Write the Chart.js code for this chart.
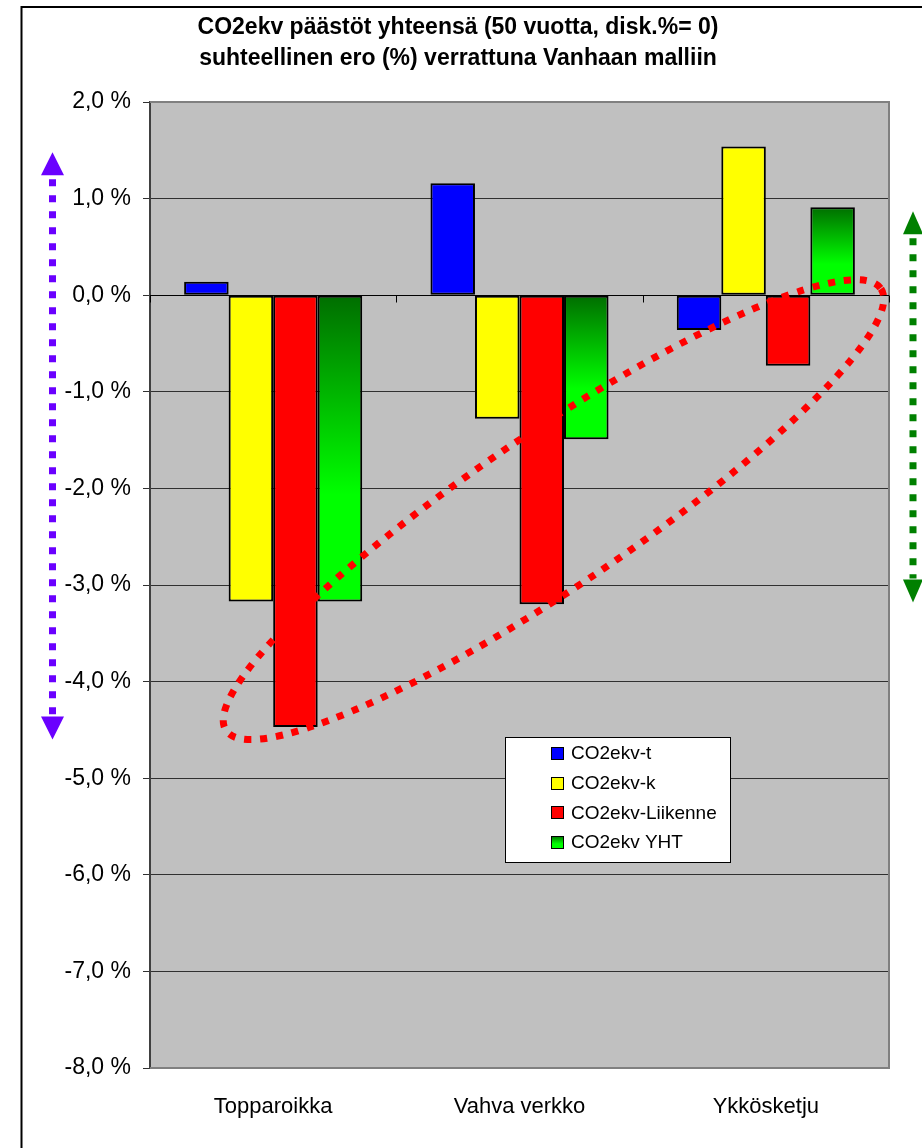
<!DOCTYPE html>
<html>
<head>
<meta charset="utf-8">
<script src="https://cdn.jsdelivr.net/npm/chart.js@4.4.1/dist/chart.umd.min.js"></script>
<style>
  html, body { margin: 0; padding: 0; background: #ffffff; }
  #wrap { width: 922px; height: 1148px; position: relative; }
  canvas { display: block; }
</style>
</head>
<body>
<div id="wrap"><canvas id="chart" width="922" height="1148"></canvas></div>
<script>
// Relative difference (%) of total CO2-eq emissions compared with the old model
const categories = ['Topparoikka', 'Vahva verkko', 'Ykkösketju'];
const seriesNames = ['CO2ekv-t', 'CO2ekv-k', 'CO2ekv-Liikenne', 'CO2ekv YHT'];
const co2t = [0.14, 1.16, -0.36];
const co2k = [-3.17, -1.28, 1.54];
const co2Liikenne = [-4.47, -3.20, -0.73];
const co2Yht = [-3.17, -1.49, 0.91];
const yMin = -8;
const yMax = 2;
const yStep = 1;
const titleLines = [
  'CO2ekv päästöt yhteensä (50 vuotta, disk.%= 0)',
  'suhteellinen ero (%) verrattuna Vanhaan malliin'
];

const FONT = "'Liberation Sans', Arial, sans-serif";

function pct(v) {
  return v.toFixed(1).replace('.', ',') + ' %';
}

function greenGradient(ctx, top, bottom) {
  const g = ctx.createLinearGradient(0, top, 0, bottom);
  g.addColorStop(0, '#006e00');
  g.addColorStop(0.65, '#00ff00');
  g.addColorStop(1, '#00ff00');
  return g;
}

// per-bar fill: dark-to-bright green gradient for the total series
function greenFill(c) {
  const chart = c.chart;
  const ys = chart.scales && chart.scales.y;
  if (!ys || c.type !== 'data' || typeof c.raw !== 'number') return '#00c000';
  const top = ys.getPixelForValue(Math.max(c.raw, 0));
  const bot = ys.getPixelForValue(Math.min(c.raw, 0));
  if (!isFinite(top) || !isFinite(bot)) return '#00c000';
  return greenGradient(chart.ctx, top, bot + 0.01);
}

const plotDecor = {
  id: 'plotDecor',
  beforeDraw(chart) {
    const { ctx, chartArea: a } = chart;
    ctx.save();
    ctx.fillStyle = '#ffffff';
    ctx.fillRect(0, 0, chart.width, chart.height);
    ctx.fillStyle = '#c0c0c0';
    ctx.fillRect(a.left, a.top, a.right - a.left, a.bottom - a.top);
    ctx.restore();
  },
  beforeDatasetsDraw(chart) {
    const { ctx, chartArea: a } = chart;
    const ys = chart.scales.y;
    ctx.save();
    // frame of the plot area (top, right, bottom)
    ctx.strokeStyle = '#808080';
    ctx.lineWidth = 2;
    ctx.beginPath();
    ctx.moveTo(a.left, a.top);
    ctx.lineTo(a.right, a.top);
    ctx.lineTo(a.right, a.bottom);
    ctx.lineTo(a.left, a.bottom);
    ctx.stroke();
    // category axis at zero with tick marks between categories
    const y0 = Math.round(ys.getPixelForValue(0)) + 0.5;
    ctx.strokeStyle = '#000000';
    ctx.lineWidth = 1;
    ctx.beginPath();
    ctx.moveTo(a.left, y0);
    ctx.lineTo(a.right, y0);
    const n = categories.length;
    for (let i = 0; i <= n; i++) {
      const x = Math.round(a.left + (a.right - a.left) * i / n) + 0.5;
      ctx.moveTo(x, y0);
      ctx.lineTo(x, y0 + 7);
    }
    ctx.stroke();
    ctx.restore();
  },
  beforeDatasetDraw(chart, args) {
    if (args.index !== 3) return;
    args.meta.data.forEach((el) => {
      const p = el.getProps(['y', 'base'], true);
      const top = Math.min(p.y, p.base);
      const bot = Math.max(p.y, p.base);
      if (!isFinite(top) || !isFinite(bot)) return;
      try {
        el.options.backgroundColor = greenGradient(chart.ctx, top, bot + 0.01);
      } catch (e) { /* options frozen: keep resolved fill */ }
    });
  },
  afterDatasetsDraw(chart) {
    const { ctx, chartArea: a } = chart;
    const ys = chart.scales.y;

    // dotted ellipse around the emphasised bars
    ctx.save();
    const cx = a.left + (a.right - a.left) * 0.546;
    const cy = ys.getPixelForValue(-2.22);
    ctx.strokeStyle = '#ff0000';
    ctx.lineWidth = 7;
    ctx.setLineDash([7, 9]);
    ctx.lineCap = 'butt';
    ctx.beginPath();
    ctx.ellipse(cx, cy, 395, 77, -34.0 * Math.PI / 180, 0, Math.PI * 2);
    ctx.stroke();
    ctx.restore();

    // dotted double-headed arrows beside the plot
    function arrow(x, vTop, vBot, color, head, half) {
      const yt = ys.getPixelForValue(vTop);
      const yb = ys.getPixelForValue(vBot);
      ctx.save();
      ctx.strokeStyle = color;
      ctx.fillStyle = color;
      ctx.lineWidth = 7;
      ctx.setLineDash([7, 9]);
      ctx.beginPath();
      ctx.moveTo(x, yt + head + 4);
      ctx.lineTo(x, yb - head - 1);
      ctx.stroke();
      ctx.beginPath();
      ctx.moveTo(x, yt);
      ctx.lineTo(x + half, yt + head);
      ctx.lineTo(x - half, yt + head);
      ctx.closePath();
      ctx.fill();
      ctx.beginPath();
      ctx.moveTo(x, yb);
      ctx.lineTo(x + half, yb - head);
      ctx.lineTo(x - half, yb - head);
      ctx.closePath();
      ctx.fill();
      ctx.restore();
    }
    arrow(52.5, 1.48, -4.60, '#6a00ff', 23, 11.5);
    arrow(913, 0.87, -3.18, '#008000', 23, 10);

    // legend box
    ctx.save();
    const lx = 505, ly = 737, lw = 225, lh = 125;
    ctx.fillStyle = '#ffffff';
    ctx.fillRect(lx, ly, lw, lh);
    ctx.strokeStyle = '#000000';
    ctx.lineWidth = 1;
    ctx.strokeRect(lx + 0.5, ly + 0.5, lw, lh);
    ctx.font = '19px ' + FONT;
    ctx.textBaseline = 'middle';
    ctx.textAlign = 'left';
    chart.data.datasets.forEach((ds, i) => {
      const yc = ly + 16 + i * 29.7;
      const sx = 551, sy = Math.round(yc - 6);
      ctx.fillStyle = i === 3 ? greenGradient(ctx, sy, sy + 12) : ds.legendColor;
      ctx.fillRect(sx, sy, 12, 12);
      ctx.strokeStyle = '#000000';
      ctx.lineWidth = 1;
      ctx.strokeRect(sx + 0.5, sy + 0.5, 12, 12);
      ctx.fillStyle = '#000000';
      ctx.fillText(ds.label, 571, yc + 1);
    });
    ctx.restore();
  },
  afterDraw(chart) {
    const { ctx } = chart;
    ctx.save();
    // title
    ctx.fillStyle = '#000000';
    ctx.font = 'bold 23px ' + FONT;
    ctx.textAlign = 'center';
    ctx.textBaseline = 'middle';
    ctx.fillText(titleLines[0], 458, 28);
    ctx.fillText(titleLines[1], 458, 59);
    // outer frame
    ctx.strokeStyle = '#000000';
    ctx.lineWidth = 2;
    ctx.beginPath();
    ctx.moveTo(21.5, chart.height);
    ctx.lineTo(21.5, 7);
    ctx.lineTo(chart.width, 7);
    ctx.stroke();
    ctx.restore();
  }
};

const common = { borderColor: '#000000', borderWidth: 2, borderSkipped: false };

new Chart(document.getElementById('chart'), {
  type: 'bar',
  data: {
    labels: categories,
    datasets: [
      { label: seriesNames[0], data: co2t, backgroundColor: '#0000ff', legendColor: '#0000ff', ...common },
      { label: seriesNames[1], data: co2k, backgroundColor: '#ffff00', legendColor: '#ffff00', ...common },
      { label: seriesNames[2], data: co2Liikenne, backgroundColor: '#ff0000', legendColor: '#ff0000', ...common },
      { label: seriesNames[3], data: co2Yht, backgroundColor: greenFill, legendColor: '#00c000', ...common }
    ]
  },
  options: {
    responsive: false,
    animation: false,
    events: [],
    layout: { padding: { top: 102, right: 33, bottom: 0, left: 0 } },
    datasets: { bar: { categoryPercentage: 0.723, barPercentage: 1.0 } },
    plugins: {
      legend: { display: false },
      title: { display: false },
      tooltip: { enabled: false }
    },
    scales: {
      x: {
        grid: { display: false },
        border: { display: false },
        ticks: { color: '#000000', font: { family: FONT, size: 22 }, padding: 18, maxRotation: 0 },
        afterFit(s) { s.height = 80; }
      },
      y: {
        min: yMin,
        max: yMax,
        ticks: {
          stepSize: yStep,
          color: '#000000',
          font: { family: FONT, size: 23 },
          padding: 12,
          callback: (v) => pct(v)
        },
        grid: {
          color: '#303030',
          lineWidth: 1,
          tickLength: 7,
          tickColor: '#303030'
        },
        border: { display: true, color: '#404040', width: 2 },
        afterFit(s) { s.width = 150; }
      }
    }
  },
  plugins: [plotDecor]
});
</script>
</body>
</html>
